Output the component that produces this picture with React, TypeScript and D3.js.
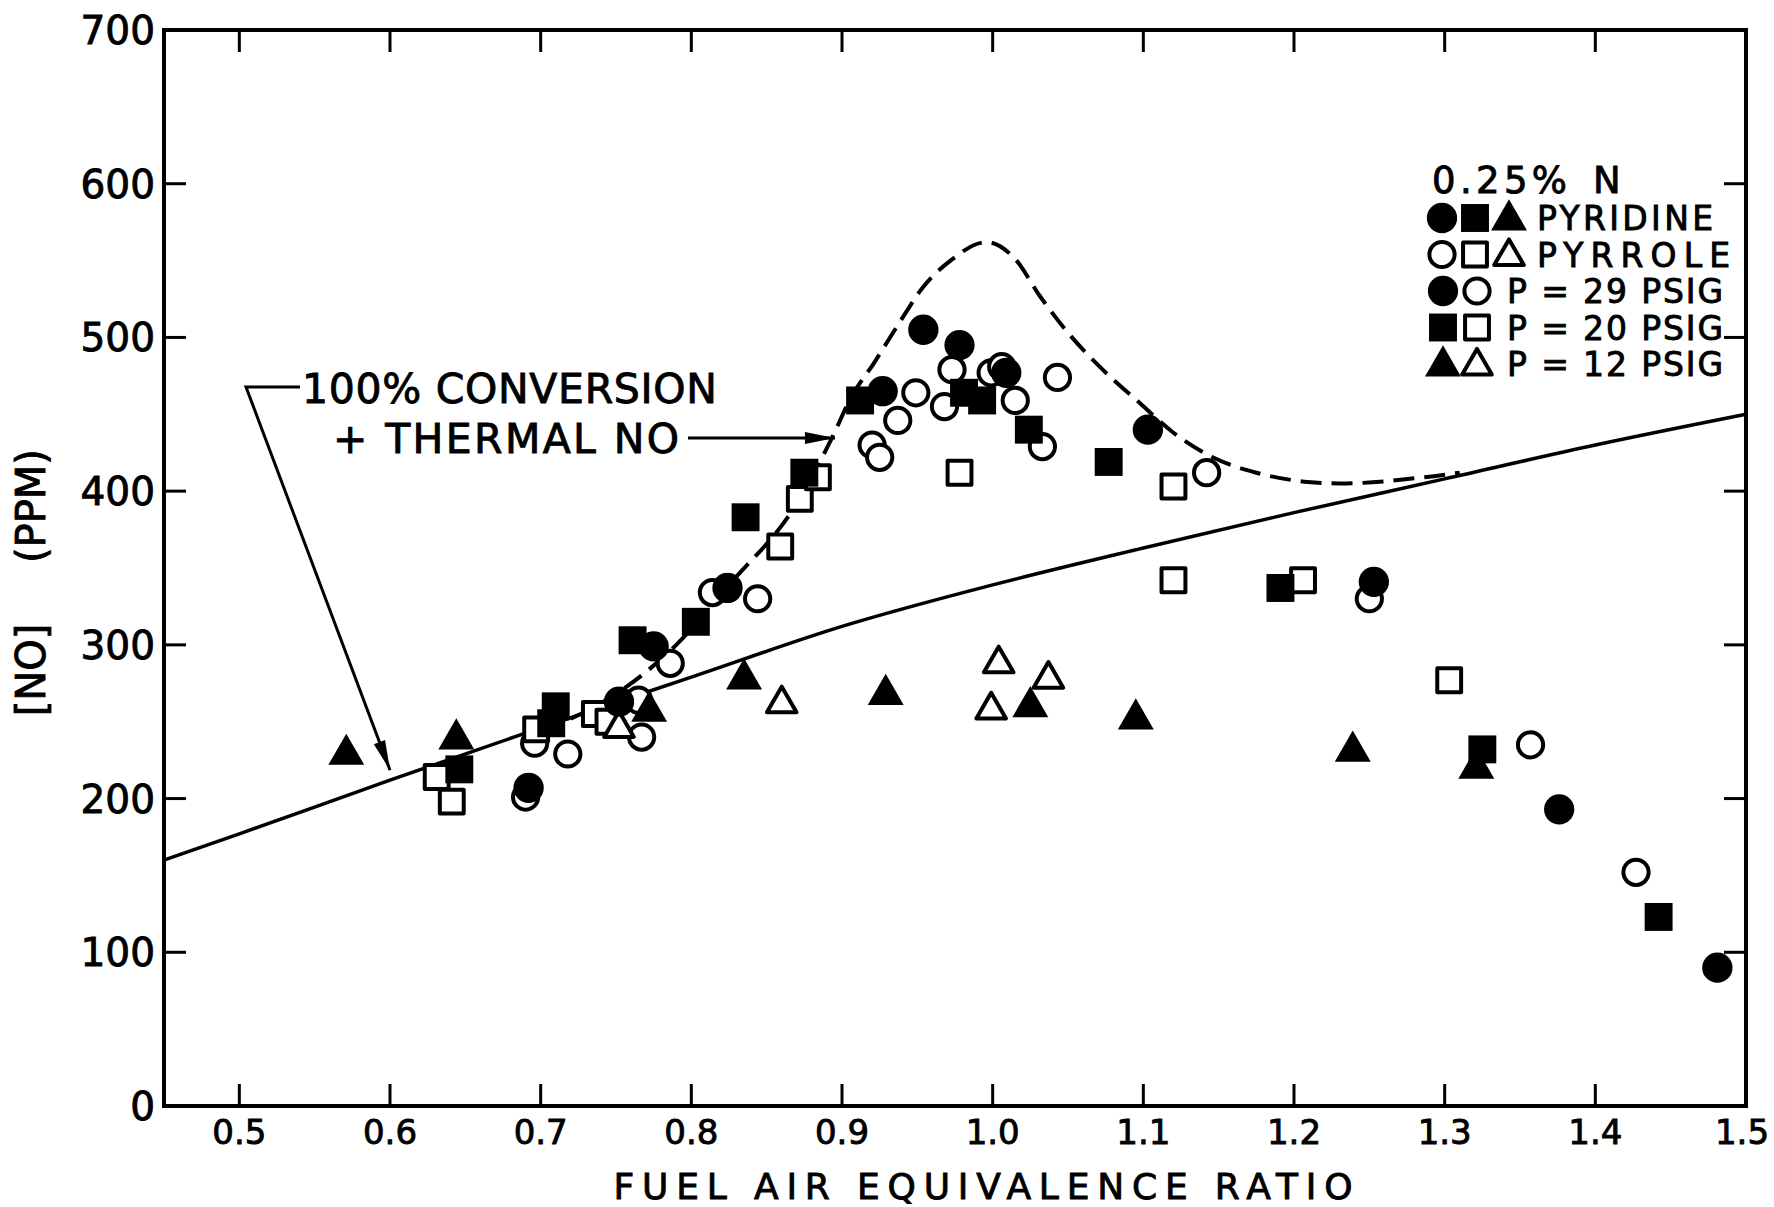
import React from 'react';
import * as d3 from 'd3';

// axis ticks
const xTicks = [0.5, 0.6, 0.7, 0.8, 0.9, 1.0, 1.1, 1.2, 1.3, 1.4, 1.5];
const yTicks = [0, 100, 200, 300, 400, 500, 600, 700];

// [equivalence ratio, NO ppm]
const pyridine29 = [
  [0.692, 207], [0.752, 263], [0.775, 299], [0.824, 337], [0.927, 465], [0.954, 505],
  [0.978, 495], [1.009, 477], [1.103, 440], [1.253, 341], [1.376, 193], [1.481, 90],
];
const pyrrole29 = [
  [0.690, 201], [0.696, 236], [0.718, 229], [0.765, 264], [0.767, 240], [0.786, 288],
  [0.814, 334], [0.844, 330], [0.920, 430], [0.925, 422], [0.937, 446], [0.949, 464],
  [0.968, 455], [0.973, 479], [0.999, 477], [1.006, 481], [1.015, 459], [1.033, 429],
  [1.043, 474], [1.142, 412], [1.250, 330], [1.357, 235], [1.427, 152],
];
const pyridine20 = [
  [0.646, 219], [0.707, 249], [0.710, 260], [0.761, 303], [0.803, 315], [0.836, 383],
  [0.875, 412], [0.912, 459], [0.981, 464], [0.993, 459], [1.024, 440], [1.077, 419],
  [1.191, 337], [1.325, 232], [1.442, 123],
];
const pyrrole20 = [
  [0.631, 214], [0.641, 198], [0.697, 245], [0.736, 255], [0.745, 250], [0.859, 364],
  [0.872, 395], [0.884, 409], [0.978, 412], [1.120, 403], [1.120, 342], [1.206, 342],
  [1.303, 277],
];
const pyridine12 = [
  [0.571, 230], [0.644, 240], [0.772, 258], [0.835, 279], [0.929, 269], [1.025, 261],
  [1.095, 253], [1.239, 232], [1.321, 221],
];
const pyrrole12 = [
  [0.752, 247], [0.860, 263], [0.999, 259], [1.004, 289], [1.037, 279],
];

// 100% conversion line and conversion + thermal NO (dashed)
const conversionLine = [
  [0.45, 160], [0.5, 177], [0.6, 212], [0.7, 246], [0.8, 279], [0.9, 312], [1.0, 339],
  [1.1, 363], [1.2, 386], [1.3, 408], [1.4, 430], [1.5, 450],
];
const thermalLine = [
  [0.72, 252], [0.74, 262], [0.79, 300], [0.826, 340], [0.87, 392], [0.894, 436],
  [0.906, 461], [0.921, 483], [0.939, 511], [0.954, 533], [0.972, 550], [0.996, 562],
  [1.014, 552], [1.032, 526], [1.05, 503], [1.071, 481], [1.098, 457], [1.12, 438],
  [1.146, 422], [1.175, 412], [1.209, 406], [1.231, 405], [1.286, 409], [1.31, 412],
];

const legendRows = [
  { marks: [['circle', true], ['square', true], ['triangle', true]], label: 'PYRIDINE', tx: 1537, len: 176 },
  { marks: [['circle', false], ['square', false], ['triangle', false]], label: 'PYRROLE', tx: 1537, len: 193 },
  { marks: [['circle', true], ['circle', false]], label: 'P = 29 PSIG', tx: 1507, len: 216 },
  { marks: [['square', true], ['square', false]], label: 'P = 20 PSIG', tx: 1507, len: 216 },
  { marks: [['triangle', true], ['triangle', false]], label: 'P = 12 PSIG', tx: 1507, len: 216 },
];

const W = 1774;
const H = 1207;
const FONT = '"DejaVu Sans", sans-serif';

const x = d3.scaleLinear().domain([0.45, 1.5]).range([164, 1746]);
const y = d3.scaleLinear().domain([0, 700]).range([1106, 30]);

const shapes: any = {
  circle: d3.symbolCircle,
  square: d3.symbolSquare,
  triangle: d3.symbolTriangle,
};
const sizeFilled: any = { circle: 720, square: 780, triangle: 560 };
const sizeOpen: any = { circle: 500, square: 570, triangle: 380 };

function Marker({ cx, cy, shape, filled }: any) {
  const path = d3.symbol().type(shapes[shape]).size(filled ? sizeFilled[shape] : sizeOpen[shape])();
  const dy = shape === 'triangle' ? 2 : 0;
  return (
    <path
      d={path || ''}
      transform={`translate(${cx},${cy + dy})`}
      fill={filled ? '#000' : '#fff'}
      stroke="#000"
      strokeWidth={filled ? 0 : 4}
      strokeLinejoin="round"
    />
  );
}

function arrowHead(tipX: number, tipY: number, fromX: number, fromY: number, len = 30, half = 6) {
  const dx = tipX - fromX;
  const dy = tipY - fromY;
  const d = Math.hypot(dx, dy);
  const ux = dx / d;
  const uy = dy / d;
  const bx = tipX - ux * len;
  const by = tipY - uy * len;
  return `M${tipX},${tipY}L${bx - uy * half},${by + ux * half}L${bx + uy * half},${by - ux * half}Z`;
}

// heavier lettering, like the stenciled original
const ink = { fill: '#000', stroke: '#000', strokeWidth: 0.9 };

export default function App() {
  const line = d3.line<number[]>().x((d) => x(d[0])).y((d) => y(d[1])).curve(d3.curveMonotoneX);
  const series = [
    { data: pyrrole29, shape: 'circle', filled: false },
    { data: pyrrole20, shape: 'square', filled: false },
    { data: pyrrole12, shape: 'triangle', filled: false },
    { data: pyridine29, shape: 'circle', filled: true },
    { data: pyridine20, shape: 'square', filled: true },
    { data: pyridine12, shape: 'triangle', filled: true },
  ];
  const innerX = xTicks.filter((t) => t < 1.5);
  const innerY = yTicks.filter((t) => t > 0 && t < 700);

  // annotation geometry (pixel positions of callouts)
  const leftTip = [x(0.6), y(212) - 10];
  const bracket = [246, 387];
  const thermalTip = [x(0.894) + 2, 438];

  return (
    <svg width={W} height={H} style={{ position: 'absolute', left: 0, top: 0, background: '#fff' }} fontFamily={FONT}>
      <rect width={W} height={H} fill="#fff" />

      {/* frame */}
      <rect x={x(0.45)} y={y(700)} width={x(1.5) - x(0.45)} height={y(0) - y(700)} fill="none" stroke="#000" strokeWidth={4} />

      {/* ticks */}
      {innerX.map((t) => (
        <g key={`xt${t}`} stroke="#000" strokeWidth={3}>
          <line x1={x(t)} x2={x(t)} y1={y(0)} y2={y(0) - 22} />
          <line x1={x(t)} x2={x(t)} y1={y(700)} y2={y(700) + 22} />
        </g>
      ))}
      {innerY.map((t) => (
        <g key={`yt${t}`} stroke="#000" strokeWidth={3}>
          <line x1={x(0.45)} x2={x(0.45) + 22} y1={y(t)} y2={y(t)} />
          <line x1={x(1.5)} x2={x(1.5) - 22} y1={y(t)} y2={y(t)} />
        </g>
      ))}

      {/* tick labels */}
      {xTicks.map((t) => (
        <text key={`xl${t}`} x={t === 1.5 ? x(t) - 4 : x(t)} y={1144} fontSize={34} textAnchor="middle" {...ink}>
          {d3.format('.1f')(t)}
        </text>
      ))}
      {yTicks.map((t) => (
        <text key={`yl${t}`} x={155} y={y(t) + 14} fontSize={39} textAnchor="end" {...ink}>
          {t}
        </text>
      ))}

      {/* axis titles */}
      <text x={983} y={1199} fontSize={36} textAnchor="middle" textLength={739} lengthAdjust="spacing" {...ink}>
        FUEL AIR EQUIVALENCE RATIO
      </text>
      <text transform="translate(45,670) rotate(-90)" fontSize={40} textAnchor="middle" {...ink}>[NO]</text>
      <text transform="translate(45,506) rotate(-90)" fontSize={40} textAnchor="middle" {...ink}>(PPM)</text>

      {/* curves */}
      <path d={line(conversionLine) || ''} fill="none" stroke="#000" strokeWidth={3.5} />
      <path d={line(thermalLine) || ''} fill="none" stroke="#000" strokeWidth={4} strokeDasharray="21 10" />

      {/* data */}
      {series.map((s, i) => (
        <g key={`s${i}`}>
          {s.data.map((d, j) => (
            <Marker key={j} cx={x(d[0])} cy={y(d[1])} shape={s.shape} filled={s.filled} />
          ))}
        </g>
      ))}

      {/* annotations */}
      <text x={302} y={403} fontSize={41} textLength={415} lengthAdjust="spacing" {...ink}>100% CONVERSION</text>
      <text x={333} y={453} fontSize={41} textLength={346} lengthAdjust="spacing" {...ink}>+ THERMAL NO</text>
      <path d={`M300,${bracket[1]}H${bracket[0]}L${leftTip[0]},${leftTip[1]}`} fill="none" stroke="#000" strokeWidth={3} />
      <path d={arrowHead(leftTip[0], leftTip[1], bracket[0], bracket[1])} fill="#000" />
      <line x1={688} x2={thermalTip[0]} y1={438} y2={438} stroke="#000" strokeWidth={3} />
      <path d={arrowHead(thermalTip[0], thermalTip[1], 688, 438)} fill="#000" />

      {/* legend */}
      <text x={1432} y={193} fontSize={37} textLength={135} lengthAdjust="spacing" {...ink}>0.25%</text>
      <text x={1593} y={193} fontSize={37} {...ink}>N</text>
      {legendRows.map((r, i) => {
        const cy = 218 + i * 36.5;
        const xs = r.marks.length === 3 ? [1442, 1475, 1509] : [1443, 1477];
        return (
          <g key={`lg${i}`}>
            {r.marks.map((m: any, j: number) => (
              <Marker key={j} cx={xs[j]} cy={cy} shape={m[0]} filled={m[1]} />
            ))}
            <text x={r.tx} y={cy + 12} fontSize={33} textLength={r.len} lengthAdjust="spacing" {...ink}>{r.label}</text>
          </g>
        );
      })}
    </svg>
  );
}
